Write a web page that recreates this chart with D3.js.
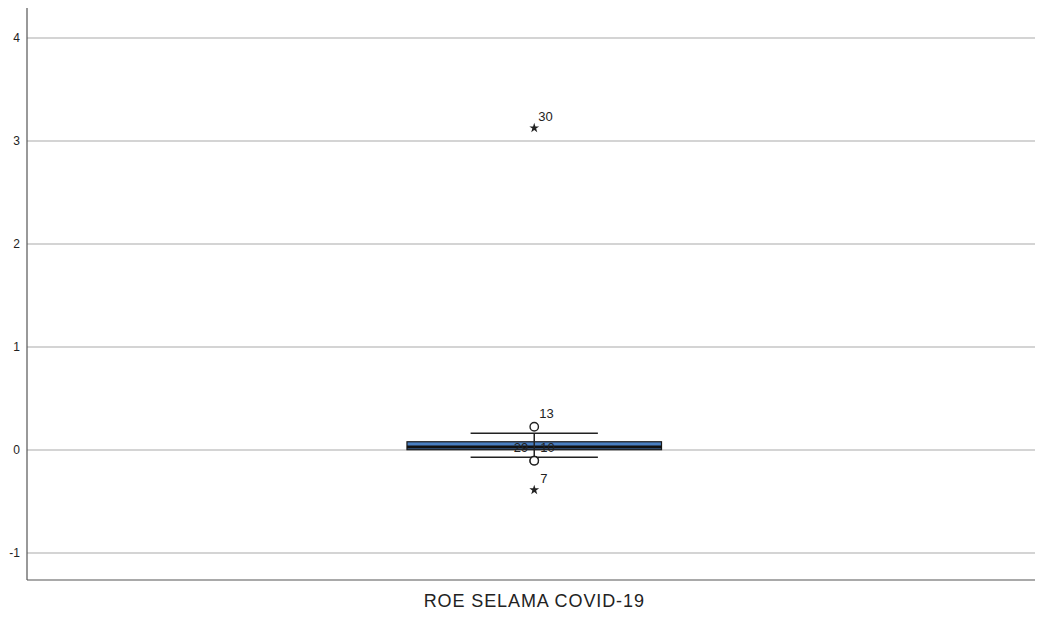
<!DOCTYPE html>
<html>
<head>
<meta charset="utf-8">
<script src="https://cdn.jsdelivr.net/npm/d3@7"></script>
<style>
  html, body { margin: 0; padding: 0; background: #fff; }
  svg { display: block; font-family: "Liberation Sans", Arial, sans-serif; }
</style>
</head>
<body>
<svg id="chart" width="1037" height="617"></svg>
<script>
// ---- data ----
const categories = ["ROE SELAMA COVID-19"];
const q1 = [0.003];
const median = [0.03];
const q3 = [0.08];
const whiskerLow = [-0.071];
const whiskerHigh = [0.162];
const outlierValues = [0.226, -0.104, -0.104];
const outlierLabels = ["13", "10", "29"];
const extremeValues = [3.126, -0.388];
const extremeLabels = ["30", "7"];
const yTicks = [-1, 0, 1, 2, 3, 4];

// ---- layout ----
const svg = d3.select("#chart");
const mLeft = 27, mRight = 1035, mTop = 8, mBottom = 580;

const y = d3.scaleLinear().domain([-1.262, 4.291]).range([mBottom, mTop]);
const x = d3.scaleBand().domain(categories).range([mLeft, mRight]).paddingInner(0).paddingOuter(1.48).align(0.5043);

// gridlines
svg.append("g").selectAll("line").data(yTicks).join("line")
  .attr("x1", mLeft).attr("x2", mRight)
  .attr("y1", d => y(d)).attr("y2", d => y(d))
  .attr("stroke", "#c6c6c6").attr("stroke-width", 1.6);

// y axis
const yAxis = svg.append("g").attr("transform", `translate(${mLeft},0)`)
  .call(d3.axisLeft(y).tickValues(yTicks).tickSize(0).tickPadding(7).tickFormat(d => String(d)));
yAxis.select(".domain").remove();
yAxis.selectAll("text").attr("font-size", 12).attr("fill", "#222")
  .attr("font-family", "Liberation Sans, Arial, sans-serif");
svg.append("line").attr("x1", mLeft).attr("x2", mLeft).attr("y1", mTop).attr("y2", mBottom)
  .attr("stroke", "#555").attr("stroke-width", 1.2);

// x axis
const xAxis = svg.append("g").attr("transform", `translate(0,${mBottom})`)
  .call(d3.axisBottom(x).tickSize(0).tickPadding(14));
xAxis.select(".domain").remove();
xAxis.selectAll("text").attr("font-size", 18).attr("fill", "#222")
  .attr("letter-spacing", "0.9px")
  .attr("font-family", "Liberation Sans, Arial, sans-serif");
svg.append("line").attr("x1", mLeft).attr("x2", mRight).attr("y1", mBottom).attr("y2", mBottom)
  .attr("stroke", "#555").attr("stroke-width", 1.2);

// box plot
categories.forEach((c, i) => {
  const cx = x(c) + x.bandwidth() / 2;
  const bw = x.bandwidth();
  const capW = bw / 2;
  const g = svg.append("g");
  g.append("line").attr("x1", cx).attr("x2", cx)
    .attr("y1", y(whiskerHigh[i])).attr("y2", y(q3[i]))
    .attr("stroke", "#222").attr("stroke-width", 1.5);
  g.append("line").attr("x1", cx).attr("x2", cx)
    .attr("y1", y(q1[i])).attr("y2", y(whiskerLow[i]))
    .attr("stroke", "#222").attr("stroke-width", 1.5);
  [whiskerHigh[i], whiskerLow[i]].forEach(v => {
    g.append("line").attr("x1", cx - capW / 2).attr("x2", cx + capW / 2)
      .attr("y1", y(v)).attr("y2", y(v))
      .attr("stroke", "#222").attr("stroke-width", 1.6);
  });
  g.append("rect").attr("x", x(c)).attr("width", bw)
    .attr("y", y(q3[i])).attr("height", y(q1[i]) - y(q3[i]))
    .attr("fill", "#4a7fc1").attr("stroke", "#1a1a1a").attr("stroke-width", 1.2);
  g.append("line").attr("x1", x(c)).attr("x2", x(c) + bw)
    .attr("y1", y(median[i])).attr("y2", y(median[i]))
    .attr("stroke", "#111").attr("stroke-width", 3);
  g.append("line").attr("x1", cx).attr("x2", cx)
    .attr("y1", y(q3[i])).attr("y2", y(q1[i]))
    .attr("stroke", "#222").attr("stroke-width", 1.5);

  outlierValues.forEach((v) => {
    g.append("circle").attr("cx", cx).attr("cy", y(v)).attr("r", 4.2)
      .attr("fill", "#fff").attr("stroke", "#222").attr("stroke-width", 1.4);
  });
  const labelPos = { "13": [5, -9, "start"], "10": [6, -9, "start"], "29": [-6, -9, "end"] };
  outlierValues.forEach((v, k) => {
    const p = labelPos[outlierLabels[k]];
    g.append("text").attr("x", cx + p[0]).attr("y", y(v) + p[1])
      .attr("text-anchor", p[2]).attr("font-size", 13).attr("fill", "#222")
      .text(outlierLabels[k]);
  });
  const extremeOffsets = { "30": 4, "7": 6 };
  extremeValues.forEach((v, k) => {
    g.append("path").attr("d", d3.symbol(d3.symbolStar, 30)())
      .attr("transform", `translate(${cx},${y(v)})`).attr("fill", "#222");
    g.append("text").attr("x", cx + extremeOffsets[extremeLabels[k]]).attr("y", y(v) - 7)
      .attr("font-size", 13).attr("fill", "#222").text(extremeLabels[k]);
  });
});
</script>
</body>
</html>
